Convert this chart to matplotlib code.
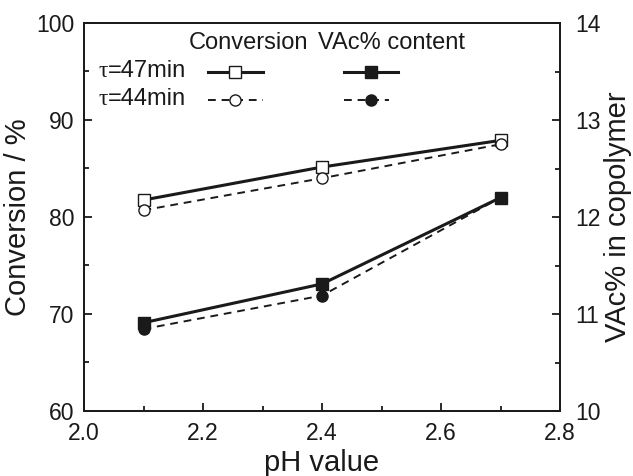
import matplotlib
matplotlib.use("Agg")
import matplotlib.pyplot as plt
from matplotlib.ticker import MultipleLocator

plt.rcParams["font.family"] = ["Liberation Sans", "DejaVu Sans"]

ph = [2.1, 2.4, 2.7]
conv_47 = [81.75, 85.15, 87.9]
conv_44 = [80.7, 84.0, 87.5]
vac_47 = [10.91, 11.31, 12.2]
vac_44 = [10.845, 11.19, 12.2]
row_labels = ["47min", "44min"]

INK = "#1a1a1a"
THICK = 2.2
THIN = 1.4
DASH = (4, 3)
MS = 8

fig = plt.figure(figsize=(6.33, 4.76), dpi=100)
ax = fig.add_axes([84 / 633, 1 - 411 / 476, 476 / 633, 388 / 476])
ax2 = ax.twinx()

ax.plot(ph, conv_47, "-", color=INK, lw=THICK, marker="s", ms=MS,
        mfc="white", mec=INK, mew=1.0)
ax.plot(ph, conv_44, "--", color=INK, lw=THIN, marker="o", ms=MS,
        mfc="white", mec=INK, mew=1.0, dashes=DASH)
ax2.plot(ph, vac_47, "-", color=INK, lw=THICK, marker="s", ms=MS,
         mfc=INK, mec=INK)
ax2.plot(ph, vac_44, "--", color=INK, lw=THIN, marker="o", ms=MS,
         mfc=INK, mec=INK, dashes=DASH)

ax.set_xlim(2.0, 2.8)
ax.set_ylim(60, 100)
ax2.set_ylim(10, 14)
ax.xaxis.set_major_locator(MultipleLocator(0.2))
ax.xaxis.set_minor_locator(MultipleLocator(0.1))
ax.yaxis.set_major_locator(MultipleLocator(10))
ax.yaxis.set_minor_locator(MultipleLocator(5))
ax2.yaxis.set_major_locator(MultipleLocator(1))
ax2.yaxis.set_minor_locator(MultipleLocator(0.5))
ax.set_xticks([2.0, 2.2, 2.4, 2.6, 2.8])
ax.set_xticklabels(["2.0", "2.2", "2.4", "2.6", "2.8"])

for a in (ax, ax2):
    a.tick_params(which="both", direction="in", colors=INK, labelsize=16.5)
    a.tick_params(which="major", length=6, width=1.3)
    a.tick_params(which="minor", length=3.6, width=1.3)
    for s in a.spines.values():
        s.set_linewidth(1.3)
        s.set_color(INK)
ax.tick_params(axis="x", pad=8)
ax.tick_params(axis="y", pad=7)
ax2.tick_params(axis="y", pad=11)

ax.set_xlabel("pH value", fontsize=21, color=INK, labelpad=3)
ax.set_ylabel("Conversion / %", fontsize=21, color=INK, labelpad=3)
ax2.set_ylabel("VAc% in copolymer", fontsize=21, color=INK, labelpad=2)

# hand-made legend (column headers + two rows)
tr = ax.transAxes
y_head, y_r1, y_r2 = 0.948, 0.874, 0.802
ax.text(0.345, y_head, "Conversion", transform=tr, ha="center", va="center",
        fontsize=17, color=INK)
ax.text(0.647, y_head, "VAc% content", transform=tr, ha="center", va="center",
        fontsize=17, color=INK)
for y, lab in zip([y_r1, y_r2], row_labels):
    tau = ax.text(0.03, y, "\u03c4", transform=tr, ha="left", va="center",
                  fontsize=17, color=INK, family="Liberation Serif")
    ax.annotate("=" + lab, xy=(1, 0), xycoords=tau, ha="left", va="bottom",
                fontsize=17, color=INK)

cx0, cx1, cm = 0.261, 0.376, 0.317
vx0, vx1, vm = 0.546, 0.660, 0.603
ax.plot([cx0, cx1], [y_r1, y_r1], "-", transform=tr, color=INK, lw=THICK)
ax.plot([cm], [y_r1], "s", transform=tr, ms=MS, mfc="white", mec=INK)
ax.plot([vx0, vx1], [y_r1, y_r1], "-", transform=tr, color=INK, lw=THICK)
ax.plot([vm], [y_r1], "s", transform=tr, ms=MS, mfc=INK, mec=INK)
ax.plot([cx0, cx1], [y_r2, y_r2], "--", transform=tr, color=INK, lw=THIN,
        dashes=DASH)
ax.plot([cm], [y_r2], "o", transform=tr, ms=MS, mfc="white", mec=INK)
ax.plot([vx0, vx1 - 0.02], [y_r2, y_r2], "--", transform=tr, color=INK,
        lw=THIN, dashes=DASH)
ax.plot([vm], [y_r2], "o", transform=tr, ms=MS, mfc=INK, mec=INK)

fig.savefig("out.png", dpi=100)
